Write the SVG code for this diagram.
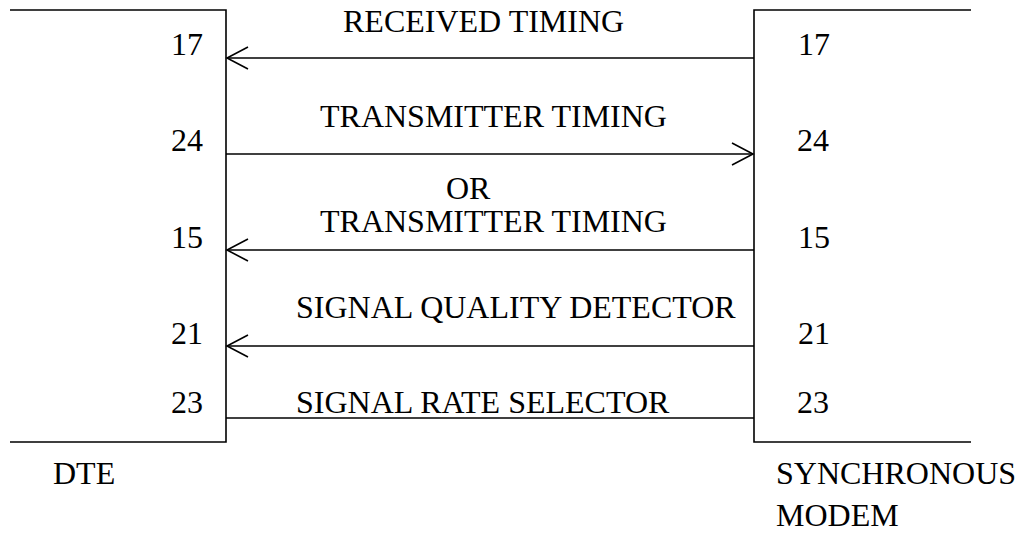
<svg xmlns="http://www.w3.org/2000/svg" width="1017" height="540" viewBox="0 0 1017 540">
<style>
.ln{stroke:#000;stroke-width:1.6;fill:none}
.t{font-family:'Liberation Serif','DejaVu Serif',serif;font-size:32px;fill:#000}
</style>
<defs>
<marker id="ah" markerUnits="userSpaceOnUse" markerWidth="26" markerHeight="26" viewBox="-23 -12 26 24" refX="0" refY="0" orient="auto">
<path d="M-21,-11 L0,0 L-21,11" stroke="#000" stroke-width="1.6" fill="none"/>
</marker>
</defs>
<rect width="1017" height="540" fill="#fff"/>
<g id="dte">
<path class="ln" d="M10,10 H226 V442 H10"/>
<text class="t" x="203" y="55" text-anchor="end">17</text>
<text class="t" x="203" y="151" text-anchor="end">24</text>
<text class="t" x="203" y="248" text-anchor="end">15</text>
<text class="t" x="203" y="344" text-anchor="end">21</text>
<text class="t" x="203" y="413" text-anchor="end">23</text>
<text class="t" x="53" y="484">DTE</text>
</g>
<g id="modem">
<path class="ln" d="M971,10 H754 V442 H971"/>
<text class="t" x="798" y="55">17</text>
<text class="t" x="797" y="151">24</text>
<text class="t" x="798" y="248">15</text>
<text class="t" x="798" y="344">21</text>
<text class="t" x="797" y="413">23</text>
<text class="t" x="776" y="484">SYNCHRONOUS</text>
<text class="t" x="776" y="526">MODEM</text>
</g>
<g id="connectors">
<line class="ln" x1="754" y1="58" x2="227" y2="58" marker-end="url(#ah)"/>
<line class="ln" x1="226" y1="154" x2="753" y2="154" marker-end="url(#ah)"/>
<line class="ln" x1="754" y1="250" x2="227" y2="250" marker-end="url(#ah)"/>
<line class="ln" x1="754" y1="346" x2="227" y2="346" marker-end="url(#ah)"/>
<line class="ln" x1="226" y1="418" x2="754" y2="418"/>
<text class="t" x="343" y="32">RECEIVED TIMING</text>
<text class="t" x="320" y="127">TRANSMITTER TIMING</text>
<text class="t" x="446" y="199">OR</text>
<text class="t" x="320" y="232">TRANSMITTER TIMING</text>
<text class="t" x="296" y="318">SIGNAL QUALITY DETECTOR</text>
<text class="t" x="296" y="413">SIGNAL RATE SELECTOR</text>
</g>
</svg>
